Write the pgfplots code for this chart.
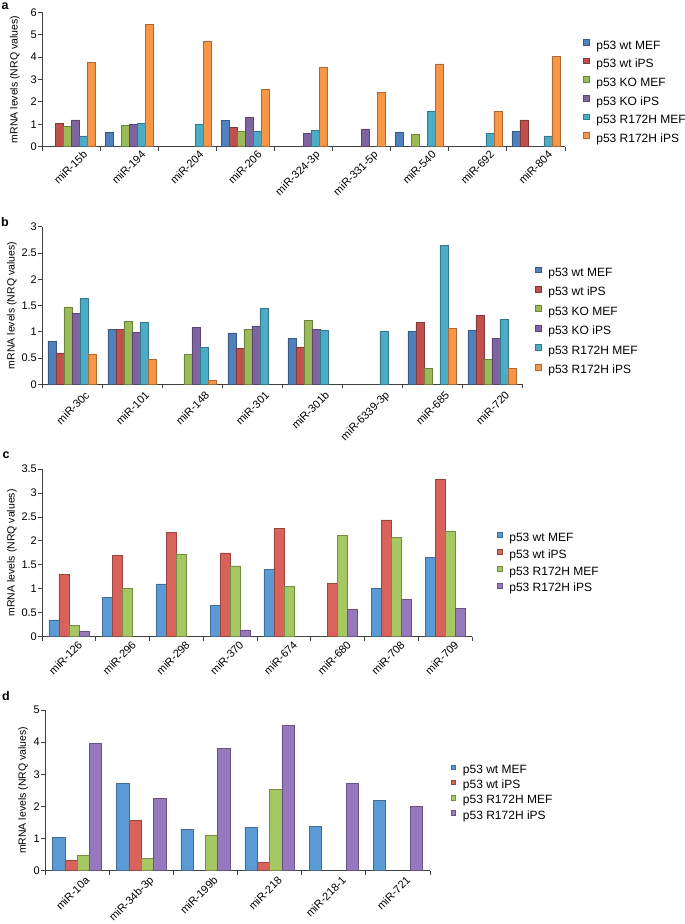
\documentclass[border=0pt]{standalone}
\usepackage{fontspec}
\setmainfont{Liberation Sans}
\usepackage{pgfplots}
\pgfplotsset{compat=1.18}

% Excel 2007 palette (panels a, b)
\definecolor{xblue}{HTML}{4F81BD}
\definecolor{xred}{HTML}{C0504D}
\definecolor{xgreen}{HTML}{9BBB59}
\definecolor{xpurple}{HTML}{8064A2}
\definecolor{xaqua}{HTML}{4BACC6}
\definecolor{xorange}{HTML}{F79646}
% lighter palette (panels c, d)
\definecolor{lblue}{HTML}{5B9BD5}
\definecolor{lred}{HTML}{D9625B}
\definecolor{lgreen}{HTML}{A6C863}
\definecolor{lpurple}{HTML}{9678BE}

\pgfplotsset{
  mirbars/.style={
    scale only axis,
    anchor=south west,
    ybar=0pt,
    ymin=0, xmin=-0.5,
    axis lines*=left,
    axis line style={black!75, line width=0.8pt},
    tick align=outside,
    major tick length=4pt,
    tick style={black!75, line width=0.8pt},
    /pgf/number format/assume math mode=true,
    tick label style={font=\fontsize{11}{13}\selectfont},
    yticklabel style={inner sep=1pt},
    xticklabels={},
    extra x tick style={major tick length=0pt},
    xticklabel style={rotate=45, anchor=north east, inner sep=0pt},
    ylabel={mRNA levels (NRQ values)},
    ylabel style={font=\fontsize{10.5}{12}\selectfont, anchor=center, rotate=0},
    legend cell align=left,
    legend style={draw=none, fill=none, inner sep=0pt, anchor=west,
      column sep=7pt,
      nodes={inner sep=0pt, text height=8.5pt, text depth=2.5pt},
      font=\fontsize{12}{14}\selectfont},
    every axis plot/.append style={line width=0.5pt},
  },
  sq/.style={legend image code/.code={\draw[##1] (0pt,1pt) rectangle (#1,{1pt+#1});}},
}

\begin{document}
\begin{tikzpicture}
\useasboundingbox (0,0) rectangle (685pt,924pt);

\node[font=\bfseries\fontsize{12.5}{14}\selectfont] at (5pt,918pt) {a};
\node[font=\bfseries\fontsize{12.5}{14}\selectfont] at (5pt,702pt) {b};
\node[font=\bfseries\fontsize{12.5}{14}\selectfont] at (6pt,469pt) {c};
\node[font=\bfseries\fontsize{12.5}{14}\selectfont] at (6pt,228pt) {d};

% ---------- panel a ----------
\begin{axis}[mirbars, at={(42pt,777.3pt)}, width=523pt, height=134.4pt,
  xmax=8.5, ymax=6, ytick={0,1,...,6}, bar width=8pt,
  xtick={-0.5,0.5,...,8.5},
  extra x ticks={0,...,8},
  extra x tick labels={miR-15b,miR-194,miR-204,miR-206,miR-324-3p,miR-331-5p,miR-540,miR-692,miR-804},
  xticklabel style={xshift=6pt, yshift=-10pt},
  ylabel style={at={(axis description cs:-0.0516,0.5)}},
  legend style={at={(axis description cs:1.0344,0.407)}, row sep=6.2pt},
  sq=5.7pt]
\addplot[fill=xblue, draw=xblue!70!black] coordinates {(1,0.64) (3,1.18) (6,0.64) (8,0.70)};
\addplot[fill=xred, draw=xred!70!black] coordinates {(0,1.03) (3,0.85) (8,1.20)};
\addplot[fill=xgreen, draw=xgreen!70!black] coordinates {(0,0.92) (1,0.94) (3,0.70) (6,0.54)};
\addplot[fill=xpurple, draw=xpurple!70!black] coordinates {(0,1.20) (1,1.00) (3,1.30) (4,0.61) (5,0.80)};
\addplot[fill=xaqua, draw=xaqua!70!black] coordinates {(0,0.48) (1,1.03) (2,0.98) (3,0.70) (4,0.73) (6,1.56) (7,0.61) (8,0.48)};
\addplot[fill=xorange, draw=xorange!70!black] coordinates {(0,3.77) (1,5.45) (2,4.69) (3,2.57) (4,3.54) (5,2.44) (6,3.70) (7,1.59) (8,4.03)};
\legend{p53 wt MEF, p53 wt iPS, p53 KO MEF, p53 KO iPS, p53 R172H MEF, p53 R172H iPS}
\end{axis}

% ---------- panel b ----------
\begin{axis}[mirbars, at={(42pt,539.7pt)}, width=480pt, height=157.6pt,
  xmax=7.5, ymax=3, ytick={0,0.5,...,3}, bar width=8pt,
  xtick={-0.5,0.5,...,7.5},
  extra x ticks={0,...,7},
  extra x tick labels={miR-30c,miR-101,miR-148,miR-301,miR-301b,miR-6339-3p,miR-685,miR-720},
  xticklabel style={xshift=4.5pt, yshift=-13pt},
  ylabel style={at={(axis description cs:-0.0625,0.5)}},
  legend style={at={(axis description cs:1.027,0.399)}, row sep=7pt},
  sq=5.7pt]
\addplot[fill=xblue, draw=xblue!70!black] coordinates {(0,0.82) (1,1.05) (3,0.98) (4,0.88) (6,1.01) (7,1.03)};
\addplot[fill=xred, draw=xred!70!black] coordinates {(0,0.60) (1,1.05) (3,0.69) (4,0.71) (6,1.18) (7,1.31)};
\addplot[fill=xgreen, draw=xgreen!70!black] coordinates {(0,1.46) (1,1.20) (2,0.57) (3,1.05) (4,1.22) (6,0.31) (7,0.47)};
\addplot[fill=xpurple, draw=xpurple!70!black] coordinates {(0,1.35) (1,0.99) (2,1.08) (3,1.11) (4,1.05) (7,0.88)};
\addplot[fill=xaqua, draw=xaqua!70!black] coordinates {(0,1.64) (1,1.18) (2,0.70) (3,1.45) (4,1.03) (5,1.01) (6,2.64) (7,1.24)};
\addplot[fill=xorange, draw=xorange!70!black] coordinates {(0,0.58) (1,0.48) (2,0.07) (6,1.06) (7,0.31)};
\legend{p53 wt MEF, p53 wt iPS, p53 KO MEF, p53 KO iPS, p53 R172H MEF, p53 R172H iPS}
\end{axis}

% ---------- panel c ----------
\begin{axis}[mirbars, at={(42pt,287.3pt)}, width=430pt, height=167.7pt,
  xmax=7.5, ymax=3.5, ytick={0,0.5,...,3.5}, bar width=10pt,
  xtick={-0.5,0.5,...,7.5},
  extra x ticks={0,...,7},
  extra x tick labels={miR-126,miR-296,miR-298,miR-370,miR-674,miR-680,miR-708,miR-709},
  xticklabel style={xshift=3.7pt, yshift=-8.3pt},
  ylabel style={at={(axis description cs:-0.0698,0.5)}},
  legend style={at={(axis description cs:1.0574,0.4365)}, row sep=5pt},
  sq=5pt]
\addplot[fill=lblue, draw=lblue!70!black] coordinates {(0,0.35) (1,0.82) (2,1.10) (3,0.66) (4,1.40) (6,1.01) (7,1.65)};
\addplot[fill=lred, draw=lred!70!black] coordinates {(0,1.30) (1,1.69) (2,2.17) (3,1.75) (4,2.26) (5,1.11) (6,2.44) (7,3.29)};
\addplot[fill=lgreen, draw=lgreen!70!black] coordinates {(0,0.24) (1,1.01) (2,1.73) (3,1.48) (4,1.05) (5,2.11) (6,2.07) (7,2.21)};
\addplot[fill=lpurple, draw=lpurple!70!black] coordinates {(0,0.12) (3,0.14) (5,0.57) (6,0.78) (7,0.59)};
\legend{p53 wt MEF, p53 wt iPS, p53 R172H MEF, p53 R172H iPS}
\end{axis}

% ---------- panel d ----------
\begin{axis}[mirbars, at={(45pt,53.3pt)}, width=385pt, height=160.7pt,
  xmax=5.5, ymax=5, ytick={0,1,...,5}, bar width=12.3pt,
  xtick={-0.5,0.5,...,5.5},
  extra x ticks={0,...,5},
  extra x tick labels={miR-10a,miR-34b-3p,miR-199b,miR-218,miR-218-1,miR-721},
  xticklabel style={xshift=2pt, yshift=-8.5pt},
  ylabel style={at={(axis description cs:-0.057,0.5)}},
  legend style={at={(axis description cs:1.054,0.4835)}, row sep=4pt},
  sq=4.5pt]
\addplot[fill=lblue, draw=lblue!70!black] coordinates {(0,1.04) (1,2.71) (2,1.28) (3,1.34) (4,1.37) (5,2.19)};
\addplot[fill=lred, draw=lred!70!black] coordinates {(0,0.31) (1,1.57) (3,0.25)};
\addplot[fill=lgreen, draw=lgreen!70!black] coordinates {(0,0.49) (1,0.38) (2,1.09) (3,2.52)};
\addplot[fill=lpurple, draw=lpurple!70!black] coordinates {(0,3.96) (1,2.25) (2,3.80) (3,4.51) (4,2.71) (5,1.99)};
\legend{p53 wt MEF, p53 wt iPS, p53 R172H MEF, p53 R172H iPS}
\end{axis}
\end{tikzpicture}
\end{document}
